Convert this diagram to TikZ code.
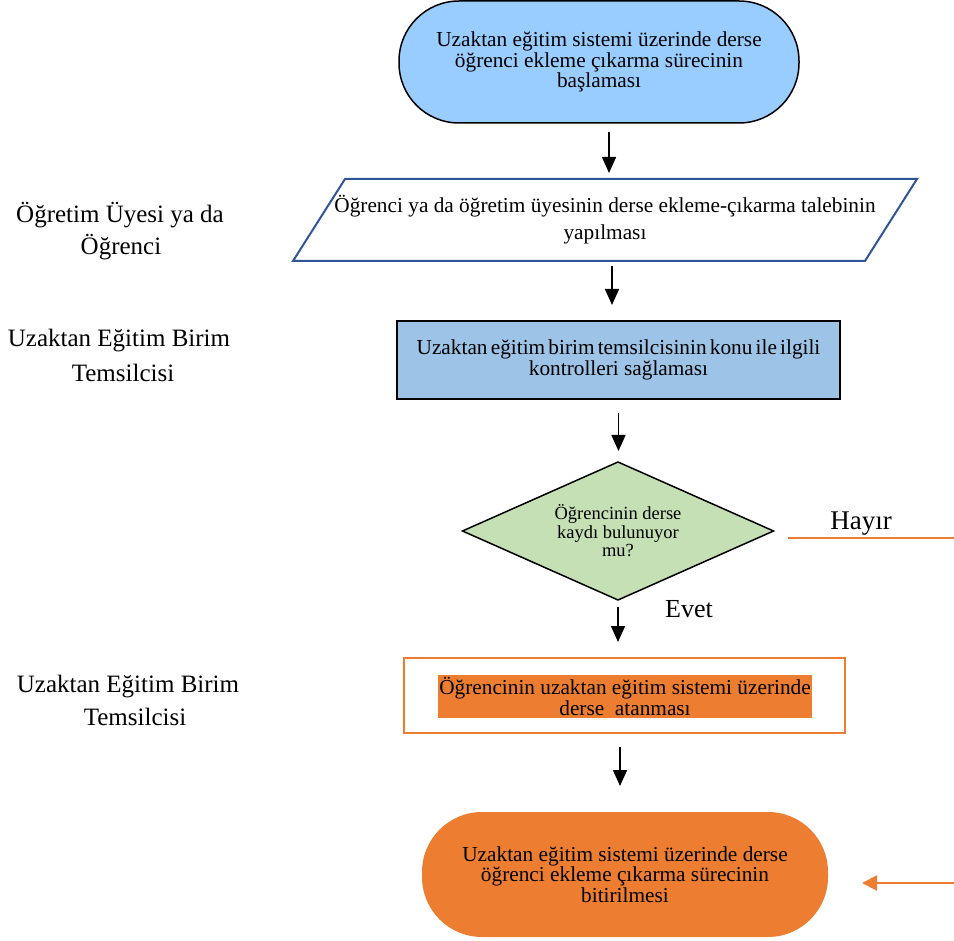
\documentclass[tikz,border=0pt]{standalone}
\usepackage{fontspec}
\setmainfont{Liberation Serif}
\usetikzlibrary{shapes.geometric,arrows.meta}
\definecolor{tblue}{HTML}{99CCFF}
\definecolor{pblue}{HTML}{2F5597}
\definecolor{bblue}{HTML}{9DC3E6}
\definecolor{dgreen}{HTML}{C5E0B4}
\definecolor{orng}{HTML}{ED7D31}
\begin{document}
\begin{tikzpicture}[x=1pt,y=-1pt,
  every node/.style={inner sep=0pt, outer sep=0pt},
  boxfont/.style={font=\fontsize{21.3}{19}\selectfont},
  term/.style={rectangle, rounded corners=60pt, align=center, boxfont},
  arr/.style={draw=black, line width=1.5pt, -{Triangle[length=16pt,width=14pt]}},
  oline/.style={draw=orng, line width=2pt},
  oarr/.style={draw=orng, line width=2pt, -{Triangle[length=15pt,width=15pt]}},
  lbl/.style={font=\fontsize{25}{25}\selectfont, anchor=base}
]
\useasboundingbox (0,0) rectangle (954,941);

% start terminal
\node[term, draw=black, line width=1.5pt, fill=tblue, minimum width=400pt, minimum height=122pt] (t1) at (599,62)
  {Uzaktan eğitim sistemi üzerinde derse\\öğrenci ekleme çıkarma sürecinin\\başlaması};

% parallelogram
\node[minimum width=624pt, minimum height=82pt, align=center, font=\fontsize{21.3}{27}\selectfont] (p1) at (605,220)
  {Öğrenci ya da öğretim üyesinin derse ekleme-çıkarma talebinin\\yapılması};
\draw[draw=pblue, line width=2pt, line join=miter]
  ([xshift=52pt]p1.north west) -- (p1.north east) -- ([xshift=-52pt]p1.south east) -- (p1.south west) -- cycle;

% blue process box
\node[draw=black, fill=bblue, line width=1.5pt, minimum width=443pt, minimum height=78pt, align=center, boxfont] (b1) at (618.5,360)
  {\spaceskip=0.15em\relax Uzaktan eğitim birim temsilcisinin konu ile ilgili\\\spaceskip=0pt\relax kontrolleri sağlaması};

% decision
\node[diamond, aspect=2.25, draw=black, fill=dgreen, line width=1.5pt, minimum width=311pt, minimum height=138pt, align=center, font=\fontsize{18.5}{18.5}\selectfont] (d1) at (618,531)
  {Öğrencinin derse\\kaydı bulunuyor\\mu?};

\node[font=\fontsize{27}{27}\selectfont, anchor=base] (hayir) at (861,529) {Hayır};
\node[font=\fontsize{26}{26}\selectfont, anchor=base] (evet) at (689,617) {Evet};

% orange process box
\node[draw=orng, line width=2pt, fill=white, minimum width=441pt, minimum height=75pt] (o1) at (624.5,695.5) {};
\node[fill=orng, minimum width=374pt, minimum height=43pt, align=center, font=\fontsize{21.3}{21}\selectfont] (o1t) at (625,696.5)
  {Öğrencinin uzaktan eğitim sistemi üzerinde\\derse\ \ atanması};

% end terminal
\node[term, fill=orng, minimum width=406pt, minimum height=125pt] (t2) at (625,874.5)
  {Uzaktan eğitim sistemi üzerinde derse\\öğrenci ekleme çıkarma sürecinin\\bitirilmesi};

% left labels
\node[lbl] (l1a) at (120,223) {Öğretim Üyesi ya da};
\node[lbl] (l1b) at (121,255) {Öğrenci};
\node[lbl] (l2a) at (119,347) {Uzaktan Eğitim Birim};
\node[lbl] (l2b) at (123,382) {Temsilcisi};
\node[lbl] (l3a) at (128,692) {Uzaktan Eğitim Birim};
\node[lbl] (l3b) at (135,725) {Temsilcisi};

% connectors
\draw[arr, shorten <=9pt, shorten >=6pt] ([xshift=10pt]t1.south) -- ([xshift=10pt]t1.south |- p1.north);
\draw[arr, shorten <=5pt, shorten >=16pt] ([xshift=7pt]p1.south) -- ([xshift=7pt]p1.south |- b1.north);
\draw[arr, shorten <=14pt, shorten >=11pt] (b1.south) -- (b1.south |- d1.north);
\draw[arr, shorten <=7pt, shorten >=16pt] (d1.south) -- (d1.south |- o1.north);
\draw[arr, shorten <=14pt, shorten >=26pt] ([xshift=-4.5pt]o1.south) -- ([xshift=-4.5pt]o1.south |- t2.north);

\coordinate (hend) at (954,538);
\draw[oline, shorten <=14pt] ([yshift=-7pt]d1.east) -- (hend);
\coordinate (rstart) at (954,883);
\draw[oarr, shorten >=34pt] (rstart) -- ([yshift=-8.5pt]t2.east);
\end{tikzpicture}
\end{document}
